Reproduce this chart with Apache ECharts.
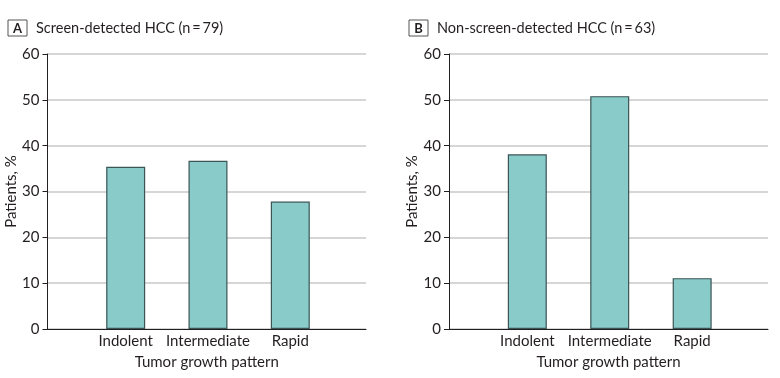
<!DOCTYPE html>
<html>
<head>
<meta charset="utf-8">
<script src="https://cdn.jsdelivr.net/npm/echarts@6/dist/echarts.min.js"></script>
<style>
  html, body { margin: 0; padding: 0; background: #fff; }
  #chart { width: 780px; height: 378px; }
</style>
</head>
<body>
<div id="chart"></div>
<script>
// tumor growth pattern categories, bars sit at x = 1, 2, 3
const categories = ['Indolent', 'Intermediate', 'Rapid']
const positions = [1, 2, 3]
const screenDetected = [35.4, 36.7, 27.8]     // n = 79
const nonScreenDetected = [38.1, 50.8, 11.1]  // n = 63
const yTicks = [0, 10, 20, 30, 40, 50, 60]

const font = 'Lato'
const textColor = '#231f20'
const barColor = '#88cbc8'
const barBorder = '#3b5556'

const chart = echarts.init(document.getElementById('chart'))

const toPoints = (vals) => vals.map((v, i) => [positions[i], v])

const xAxisFor = (gridIndex) => ({
  gridIndex: gridIndex,
  type: 'value',
  min: 0.05,
  max: 3.92,
  name: 'Tumor growth pattern',
  nameLocation: 'middle',
  nameGap: 26,
  nameTextStyle: { fontFamily: font, fontSize: 15, color: textColor },
  axisLine: { show: true, lineStyle: { color: '#231f20', width: 1 } },
  axisTick: { show: false },
  splitLine: { show: false },
  axisLabel: {
    customValues: positions,
    formatter: (v) => categories[positions.indexOf(v)] || '',
    fontFamily: font,
    fontSize: 15,
    color: textColor,
    margin: 5
  }
})

const yAxisFor = (gridIndex) => ({
  gridIndex: gridIndex,
  type: 'value',
  min: yTicks[0],
  max: yTicks[yTicks.length - 1],
  interval: 10,
  name: 'Patients, %',
  nameLocation: 'middle',
  nameGap: 28,
  nameTextStyle: { fontFamily: font, fontSize: 15, color: textColor },
  axisLine: { show: true, lineStyle: { color: '#231f20', width: 1 } },
  axisTick: { show: true, length: 5, lineStyle: { color: '#231f20' } },
  axisLabel: { fontFamily: font, fontSize: 15, color: textColor, margin: 8 },
  splitLine: { show: true, lineStyle: { color: '#c8c8c8', width: 1.5 } }
})

const barSeries = (idx, data) => ({
  type: 'bar',
  xAxisIndex: idx,
  yAxisIndex: idx,
  data: toPoints(data),
  barWidth: 39,
  itemStyle: { color: barColor, borderColor: barBorder, borderWidth: 1.2 },
  emphasis: { disabled: true }
})

const panelTitle = (letter, text, left) => ({
  left: left,
  top: 14,
  text: '{box|' + letter + '}{gap|}{txt|' + text + '}',
  textStyle: {
    rich: {
      box: {
        fontFamily: font, fontSize: 13, fontWeight: 'bold', color: textColor,
        borderColor: '#555', borderWidth: 1, padding: [2, 5, 1, 5],
        lineHeight: 14, width: 9, align: 'center'
      },
      gap: { width: 9 },
      txt: { fontFamily: font, fontSize: 14.5, fontWeight: 'normal', color: textColor }
    }
  }
})

chart.setOption({
  animation: false,
  title: [
    panelTitle('A', 'Screen-detected HCC (n\u2009=\u200979)', 3),
    panelTitle('B', 'Non-screen-detected HCC (n\u2009=\u200963)', 404)
  ],
  grid: [
    { left: 47.5, right: 414, top: 54, bottom: 49 },
    { left: 449, right: 12, top: 54, bottom: 49 }
  ],
  xAxis: [xAxisFor(0), xAxisFor(1)],
  yAxis: [yAxisFor(0), yAxisFor(1)],
  series: [
    barSeries(0, screenDetected),
    barSeries(1, nonScreenDetected)
  ]
})
</script>
</body>
</html>
